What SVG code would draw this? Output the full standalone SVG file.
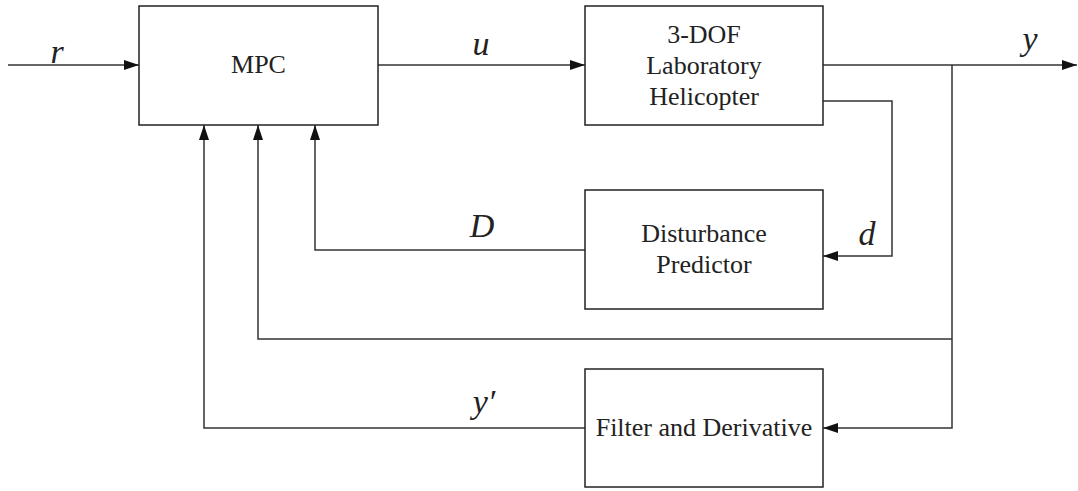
<svg xmlns="http://www.w3.org/2000/svg" width="1078" height="491" viewBox="0 0 1078 491">
<style>
.box{fill:#fff;stroke:#222;stroke-width:1.5}
.ln{fill:none;stroke:#333;stroke-width:1.5}
.t{font-family:"Liberation Serif","DejaVu Serif",serif;font-size:26px;fill:#222;text-anchor:middle}
.v{font-family:"Liberation Serif","DejaVu Serif",serif;font-size:34px;font-style:italic;fill:#222;text-anchor:middle}
</style>
<defs>
<marker id="ah" viewBox="0 0 15 10" refX="15" refY="5" markerWidth="15" markerHeight="10" markerUnits="userSpaceOnUse" orient="auto">
<path d="M0,0 L15,5 L0,10 Z" fill="#111"/>
</marker>
</defs>
<rect width="1078" height="491" fill="#fff"/>
<g id="connectors">
<path class="ln" d="M8,65 H139" marker-end="url(#ah)"/>
<path class="ln" d="M378,65 H585" marker-end="url(#ah)"/>
<path class="ln" d="M823,65 H1077" marker-end="url(#ah)"/>
<path class="ln" d="M823,101 H892 V256 H823" marker-end="url(#ah)"/>
<path class="ln" d="M585,250 H315 V125" marker-end="url(#ah)"/>
<path class="ln" d="M952,65 V428 H823" marker-end="url(#ah)"/>
<path class="ln" d="M952,339 H258 V125" marker-end="url(#ah)"/>
<path class="ln" d="M585,428 H204 V125" marker-end="url(#ah)"/>
<text class="v" x="57" y="63">r</text>
<text class="v" x="481" y="55">u</text>
<text class="v" x="1030" y="50">y</text>
<text class="v" x="482" y="237">D</text>
<text class="v" x="867" y="245">d</text>
<text class="v" x="484" y="413">y′</text>
</g>
<g id="mpc">
<rect class="box" x="139" y="6" width="239" height="119"/>
<text class="t" x="258.5" y="73">MPC</text>
</g>
<g id="helicopter">
<rect class="box" x="585" y="6" width="238" height="119"/>
<text class="t" x="704" y="43">3-DOF</text>
<text class="t" x="704" y="74">Laboratory</text>
<text class="t" x="704" y="105">Helicopter</text>
</g>
<g id="disturbance">
<rect class="box" x="585" y="190" width="238" height="119"/>
<text class="t" x="704" y="242">Disturbance</text>
<text class="t" x="704" y="273">Predictor</text>
</g>
<g id="filter">
<rect class="box" x="585" y="369" width="238" height="118"/>
<text class="t" x="704" y="436">Filter and Derivative</text>
</g>
</svg>
